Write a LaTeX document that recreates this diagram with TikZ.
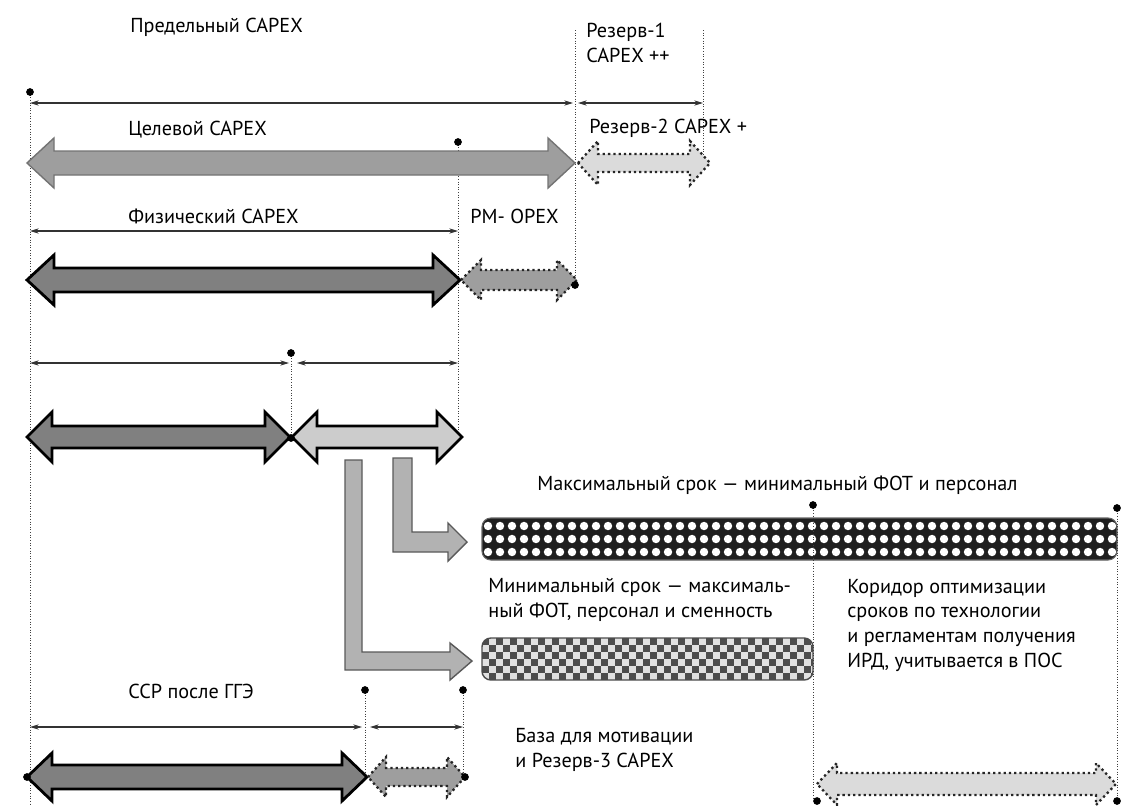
\documentclass[tikz,border=0pt]{standalone}
\usepackage{fontspec}
\setmainfont{PT Sans}
\usetikzlibrary{arrows.meta}

\definecolor{tone1}{gray}{0.62}
\definecolor{tone2}{gray}{0.50}
\definecolor{tone3}{gray}{0.80}
\definecolor{tone4}{gray}{0.70}
\definecolor{tone5}{gray}{0.86}
\definecolor{barback}{gray}{0.12}
\definecolor{checklight}{gray}{0.88}
\definecolor{checkdark}{gray}{0.30}

\tikzset{
  lbl/.style={anchor=base west, inner sep=0pt, align=left, font=\fontsize{11.5}{14}\selectfont},
  guide/.style={densely dotted, line width=0.5pt, black!75},
  span/.style={<->, line width=0.6pt, black!80},
  soft/.style={draw=black!55, line width=0.8pt},
  hard/.style={draw=black, line width=1.6pt},
  dotline/.style={draw=black!85, line width=1.3pt, dash pattern=on 1.3pt off 1.7pt},
  elbow/.style={fill=tone4, draw=black!65, line width=0.8pt},
  >={Stealth[length=5pt,width=3pt]}
}

% double block arrow: style, x1, x2, y, shaft half, head half, head length
\newcommand{\dblarrow}[7]{%
  \draw[#1] (#2,#4) -- ({#2+#7},{#4-#6}) -- ({#2+#7},{#4-#5}) -- ({#3-#7},{#4-#5})
    -- ({#3-#7},{#4-#6}) -- (#3,#4) -- ({#3-#7},{#4+#6}) -- ({#3-#7},{#4+#5})
    -- ({#2+#7},{#4+#5}) -- ({#2+#7},{#4+#6}) -- cycle;}

\begin{document}
\begin{tikzpicture}[x=0.02cm, y=-0.02cm]
    \useasboundingbox (0,0) rectangle (1133,805);

    % guides
    \draw[guide] (30,92) -- (30,805);
    \draw[guide] (575,30) -- (575,285);
    \draw[guide] (703,30) -- (703,165);
    \draw[guide] (458,142) -- (458,437);
    \draw[guide] (291,353) -- (291,438);
    \draw[guide] (365,690) -- (365,777);
    \draw[guide] (463,690) -- (463,777);

    % spans
    \draw[span] (30,103) -- (573,103);
    \draw[span] (578,103) -- (703,103);
    \draw[span] (30,231) -- (458,231);
    \draw[span] (30,363) -- (289,363);
    \draw[span] (297,363) -- (458,363);
    \draw[span] (30,727) -- (362,727);
    \draw[span] (370,727) -- (463,727);

    % block arrows
    \dblarrow{soft, fill=tone1}{27}{575}{163}{12}{25}{27}
    \dblarrow{dotline, fill=tone5}{578}{710}{163}{9}{22}{20}
    \dblarrow{hard, fill=tone2}{27}{460}{280}{12}{25}{27}
    \dblarrow{dotline, fill=tone1}{461}{577}{280}{10}{20}{20}
    \dblarrow{hard, fill=tone2}{27}{290}{437}{11}{25}{25}
    \dblarrow{hard, fill=tone3}{292}{462}{437}{11}{25}{25}
    \dblarrow{hard, fill=tone2}{27}{367}{777}{12}{24}{25}
    \dblarrow{dotline, fill=tone1}{368}{465}{777}{9}{20}{18}
    \dblarrow{dotline, fill=tone5}{817}{1116}{784}{11}{21}{20}

    % bent arrows
    \draw[elbow] (345,460) -- (362,460) -- (362,652) -- (450,652) -- (450,643)
      -- (472,661) -- (450,680) -- (450,670) -- (345,670) -- cycle;
    \draw[elbow] (393,458) -- (412,458) -- (412,532) -- (448,532) -- (448,523)
      -- (467,542) -- (448,561) -- (448,552) -- (393,552) -- cycle;

    % dotted bar
    \fill[barback, rounded corners=5pt] (482,518) rectangle (1117,560);
    \begin{scope}
      \clip[rounded corners=5pt] (482,518) rectangle (1117,560);
      \foreach \c in {0,...,52}
        \foreach \r in {0,1,2}
          \fill[white] ({488+\c*12},{526+\r*13}) circle (2.4pt);
    \end{scope}
    \draw[black!60, line width=0.6pt, rounded corners=5pt] (482,518) rectangle (1117,560);

    % checked bar
    \fill[checklight, rounded corners=5pt] (482,638) rectangle (813,680);
    \begin{scope}
      \clip[rounded corners=5pt] (482,638) rectangle (813,680);
      \foreach \r in {0,...,5} {
        \pgfmathtruncatemacro\shift{mod(\r,2)}
        \foreach \c in {0,2,...,46}
          \fill[checkdark] ({482+(\c+\shift)*7},{638+\r*7}) rectangle ++(7,7);
      }
    \end{scope}
    \draw[black!70, line width=0.8pt, rounded corners=5pt] (482,638) rectangle (813,680);

    \draw[guide] (813,505) -- (813,800);
    \draw[guide] (1117,508) -- (1117,800);

    % knots
    \foreach \p in {(30,92),(458,142),(575,285),(291,353),(291,438),(813,505),(1117,508),
                    (365,690),(463,690),(465,777),(27,777),(817,801),(1117,801)}
      \fill \p circle (2.2pt);

    % labels (multi-line ones sit on their last baseline)
    \node[lbl] (limit) at (130,32) {Предельный CAPEX};
    \node[lbl] (res1) at (586,62) {Резерв-1\\CAPEX ++};
    \node[lbl] (target) at (128,135) {Целевой CAPEX};
    \node[lbl] (res2) at (589,133) {Резерв-2 CAPEX +};
    \node[lbl] (phys) at (128,223) {Физический CAPEX};
    \node[lbl] (opex) at (470,223) {PM- OPEX};
    \node[lbl] (maxterm) at (537,490) {Максимальный срок — минимальный ФОТ и персонал};
    \node[lbl] (minterm) at (488,617) {Минимальный срок — максималь-\\ный ФОТ, персонал и сменность};
    \node[lbl] (corridor) at (847,667) {Коридор оптимизации\\сроков по технологии\\и регламентам получения\\ИРД, учитывается в ПОС};
    \node[lbl] (ssr) at (128,698) {ССР после ГГЭ};
    \node[lbl] (base) at (515,767) {База для мотивации\\и Резерв-3 CAPEX};
\end{tikzpicture}
\end{document}
